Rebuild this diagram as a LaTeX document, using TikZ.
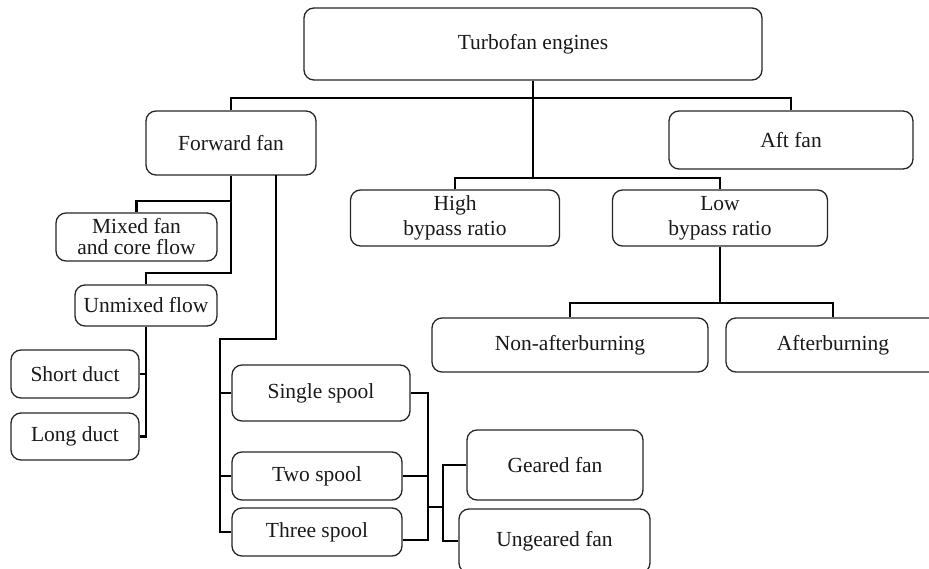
\documentclass[tikz,border=0pt]{standalone}
\usepackage{fontspec}
\setmainfont{Liberation Serif}
\begin{document}
\begin{tikzpicture}[x=1pt,y=-1pt,
  box/.style={draw=black!85, line width=1.3pt, rounded corners=10pt, inner sep=0pt,
    align=center, font=\fontsize{21.5}{25}\selectfont, text=black!90},
  conn/.style={draw=black, line width=2.8pt}]
\useasboundingbox (0,0) rectangle (929,569);
\clip (0,0) rectangle (929,569);
% nodes
\node[box, minimum width=458, minimum height=72] (top) at (533,44) {Turbofan engines};
\node[box, minimum width=170, minimum height=64] (ff) at (231,143) {Forward fan};
\node[box, minimum width=244, minimum height=58] (aft) at (791,140) {Aft fan};
\node[box, minimum width=209, minimum height=56] (high) at (455,218) {High\\bypass ratio};
\node[box, minimum width=215, minimum height=56] (low) at (720,218) {Low\\bypass ratio};
\node[box, minimum width=276, minimum height=54] (nab) at (570,345) {Non-afterburning};
\node[box, minimum width=214, minimum height=54] (ab) at (833,345) {Afterburning};
\node[box, minimum width=161, minimum height=48, font=\fontsize{21.5}{21}\selectfont] (mixed) at (136.5,237) {Mixed fan\\and core flow};
\node[box, minimum width=142, minimum height=41] (unmixed) at (146,305.5) {Unmixed flow};
\node[box, minimum width=128, minimum height=48] (short) at (75,374) {Short duct};
\node[box, minimum width=128, minimum height=47] (long) at (75,436.5) {Long duct};
\node[box, minimum width=178, minimum height=56] (single) at (321,393) {Single spool};
\node[box, minimum width=170, minimum height=48] (two) at (317,476) {Two spool};
\node[box, minimum width=170, minimum height=48] (three) at (317,532) {Three spool};
\node[box, minimum width=176, minimum height=70] (geared) at (555,465) {Geared fan};
\node[box, minimum width=191, minimum height=64] (ungeared) at (554.5,541) {Ungeared fan};
% junctions
\coordinate (j1) at (533,98);
\coordinate (j2) at (533,178);
\coordinate (j3) at (720,303);
\coordinate (f1) at (231,201);
\coordinate (f2) at (231,273);
\coordinate (f3) at (276,175);
\coordinate (f4) at (220,339);
\coordinate (b) at (428,540);
\coordinate (g) at (443,507);
% connectors
\draw[conn] (top.south) -- (j1);
\draw[conn] (ff.north) |- (j1) -| (aft.north);
\draw[conn] (j1) -- (j2);
\draw[conn] (high.north) |- (j2) -| (low.north);
\draw[conn] (low.south) -- (j3);
\draw[conn] (nab.north) |- (j3) -| (ab.north);
\draw[conn] (ff.south) -- (f2) -| (unmixed.north);
\draw[conn] (f1) -| (mixed.north);
\draw[conn] (unmixed.south) |- (long.east);
\draw[conn] (short.east) -- (short.east -| unmixed.south);
\draw[conn] (f3) |- (f4) |- (three.west);
\draw[conn] (single.west) -- (single.west -| f4);
\draw[conn] (two.west) -- (two.west -| f4);
\draw[conn] (single.east) -| (b) -- ([yshift=-8pt]three.east);
\draw[conn] (two.east) -- (two.east -| b);
\draw[conn] (b |- g) -- (g);
\draw[conn] (geared.west) -| (g) |- (ungeared.west);
\end{tikzpicture}
\end{document}
